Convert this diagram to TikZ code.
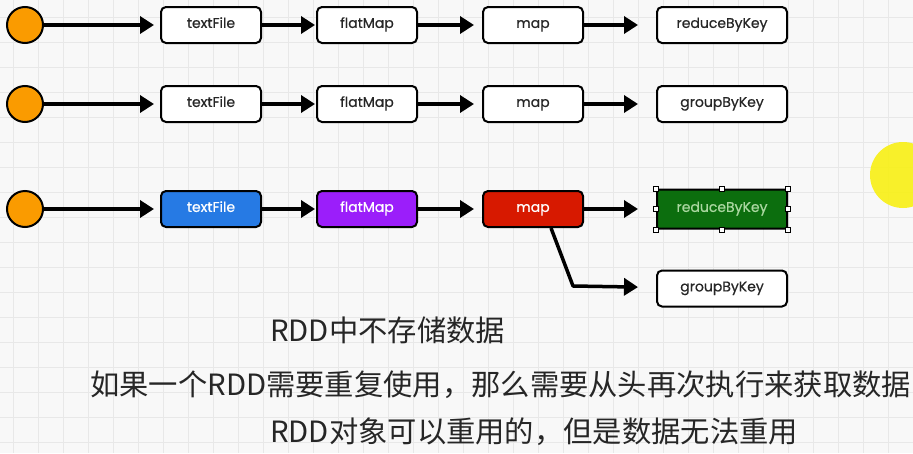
\documentclass[tikz,border=0pt]{standalone}
\usepackage{fontspec}
\newfontfamily\boxfont[FakeBold=0.6]{Poppins}
\newfontfamily\cjk{Noto Sans CJK SC}
\usepackage{tikz}
\usetikzlibrary{positioning, arrows.meta, shapes}
\definecolor{ambar}{RGB}{250, 155, 0}
\definecolor{azul}{RGB}{38, 122, 228}
\definecolor{violeta}{RGB}{155, 30, 250}
\definecolor{rojo}{RGB}{215, 25, 0}
\definecolor{verde}{RGB}{12, 110, 14}
\definecolor{verdeclaro}{RGB}{170, 215, 160}
\definecolor{fondo}{RGB}{248, 248, 248}
\definecolor{rejilla}{RGB}{232, 232, 232}
\definecolor{amarillo}{RGB}{248, 240, 20}
\tikzset{
    src/.style={circle, draw=black, line width=2pt, fill=ambar, minimum size=36pt, inner sep=0pt},
    op/.style={rectangle, rounded corners=5pt, draw=black, line width=2pt, fill=white, minimum width=100pt, minimum height=36pt, inner sep=0pt, text height=1.35ex, text depth=0pt, text=black!85, font=\boxfont\fontsize{14}{16}\selectfont},
    opWide/.style={op, minimum width=130pt},
    conn/.style={-{Triangle[length=14pt,width=17pt]}, line width=3.5pt, line join=round},
    note/.style={anchor=west, inner sep=0pt, text=black!85, font=\cjk\fontsize{29.3}{32}\selectfont},
    handle/.style={rectangle, draw=black, fill=white, line width=0.8pt, minimum size=5pt, inner sep=0pt},
}
\begin{document}
\begin{tikzpicture}[x=1pt, y=-1pt]
    \useasboundingbox (0,0) rectangle (913,453);
    \fill[fondo] (0,0) rectangle (913,453);
    \foreach \gx in {13,38,...,913}
        \draw[rejilla, line width=0.8pt] (\gx,0) -- (\gx,453);
    \foreach \gy in {17,42,...,453}
        \draw[rejilla, line width=0.8pt] (0,\gy) -- (913,\gy);

    % row 1
    \node[src] (a1) at (25,25) {};
    \node[op, right=116pt of a1] (t1) {textFile};
    \node[op, right=54pt of t1] (f1) {flatMap};
    \node[op, right=64pt of f1] (m1) {map};
    \node[opWide, right=72pt of m1] (r1) {reduceByKey};

    % row 2
    \node[src] (a2) at (25,104) {};
    \node[op, right=116pt of a2] (t2) {textFile};
    \node[op, right=54pt of t2] (f2) {flatMap};
    \node[op, right=64pt of f2] (m2) {map};
    \node[opWide, right=72pt of m2] (g2) {groupByKey};

    % row 3
    \node[src] (a3) at (25,209) {};
    \node[op, fill=azul, text=white, right=116pt of a3] (t3) {textFile};
    \node[op, fill=violeta, text=white, right=54pt of t3] (f3) {flatMap};
    \node[op, fill=rojo, text=white, right=64pt of f3] (m3) {map};
    \node[opWide, fill=verde, text=verdeclaro, minimum height=39pt, rounded corners=1pt, right=72pt of m3] (r3) {reduceByKey};
    \node[opWide, below=40pt of r3] (g3) {groupByKey};
    \coordinate (k3) at (573,286);

    \foreach \a [count=\i] in {north west, north, north east, east, south east, south, south west, west}
        \node[handle] (h\i) at (r3.\a) {};

    \foreach \r in {1,2,3} {
        \draw[conn, shorten >=6pt] (a\r) -- (t\r);
        \draw[conn, shorten >=1pt] (t\r) -- (f\r);
        \draw[conn, shorten >=8pt] (f\r) -- (m\r);
    }
    \draw[conn, shorten >=18pt] (m1) -- (r1);
    \draw[conn, shorten >=18pt] (m2) -- (g2);
    \draw[conn, shorten >=18pt] (m3) -- (r3);
    \draw[conn, shorten >=18pt] ([xshift=18pt]m3.south) -- (k3) -- (g3);

    \node[note] (n1) at (270,330) {RDD中不存储数据};
    \node[note] (n2) at (90,385) {如果一个RDD需要重复使用，那么需要从头再次执行来获取数据};
    \node[note] (n3) at (270,432) {RDD对象可以重用的，但是数据无法重用};

    \fill[amarillo, opacity=0.9] (903,175) circle (33);
\end{tikzpicture}
\end{document}
